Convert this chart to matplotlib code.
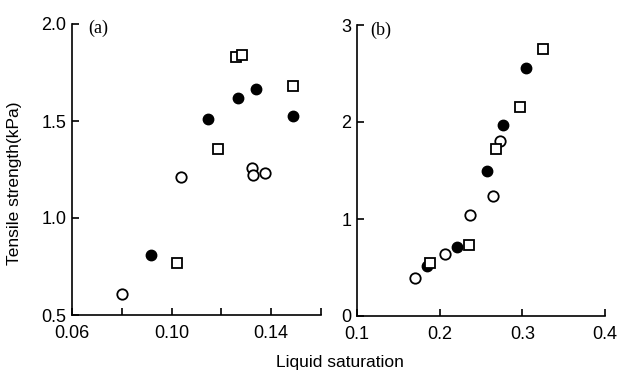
import matplotlib
matplotlib.use("Agg")
import matplotlib.pyplot as plt

# ---- data: panel (a) ----
a_open_x = [0.0800, 0.1036, 0.1322, 0.1325, 0.1375]
a_open_y = [0.608, 1.213, 1.256, 1.222, 1.230]
a_fill_x = [0.0916, 0.1145, 0.1268, 0.1339, 0.1488]
a_fill_y = [0.809, 1.509, 1.617, 1.663, 1.527]
a_sq_x = [0.1021, 0.1188, 0.1259, 0.1281, 0.1488]
a_sq_y = [0.770, 1.354, 1.831, 1.840, 1.680]

# ---- data: panel (b) ----
b_open_x = [0.170, 0.206, 0.237, 0.265, 0.2735]
b_open_y = [0.393, 0.635, 1.045, 1.232, 1.805]
b_fill_x = [0.1843, 0.2205, 0.2575, 0.2767, 0.3048]
b_fill_y = [0.514, 0.711, 1.493, 1.965, 2.556]
b_sq_x = [0.1884, 0.2353, 0.2687, 0.2968, 0.3249]
b_sq_y = [0.549, 0.729, 1.722, 2.153, 2.753]

a_xticks = [0.06, 0.08, 0.10, 0.12, 0.14, 0.16]
a_xticklabels = ["0.06", "", "0.10", "", "0.14", ""]
a_yticks = [0.5, 1.0, 1.5, 2.0]
a_yticklabels = ["0.5", "1.0", "1.5", "2.0"]
b_xticks = [0.1, 0.2, 0.3, 0.4]
b_xticklabels = ["0.1", "0.2", "0.3", "0.4"]
b_yticks = [0, 1, 2, 3]
b_yticklabels = ["0", "1", "2", "3"]

plt.rcParams['font.family'] = ['Liberation Sans', 'DejaVu Sans']

W, H = 622, 372
fig = plt.figure(figsize=(W / 100, H / 100), dpi=100)

def px_axes(left, right, top, bottom):
    return fig.add_axes([left / W, (H - bottom) / H, (right - left) / W, (bottom - top) / H])

axa = px_axes(72, 321, 24, 315)
axb = px_axes(357, 605, 25, 316)

ms = 7.5
for ax, ox, oy, fx, fy, sx, sy in [
    (axa, a_open_x, a_open_y, a_fill_x, a_fill_y, a_sq_x, a_sq_y),
    (axb, b_open_x, b_open_y, b_fill_x, b_fill_y, b_sq_x, b_sq_y),
]:
    ax.plot(ox, oy, 'o', ms=ms, mfc='white', mec='black', mew=1.3, ls='none', clip_on=False)
    ax.plot(fx, fy, 'o', ms=ms, mfc='black', mec='black', mew=1.0, ls='none', clip_on=False)
    ax.plot(sx, sy, 's', ms=ms * 0.95, mfc='white', mec='black', mew=1.3, ls='none', clip_on=False)
    for s in ['top', 'right']:
        ax.spines[s].set_visible(False)
    for s in ['left', 'bottom']:
        ax.spines[s].set_linewidth(1.2)
    ax.tick_params(direction='in', length=5, width=1.2, labelsize=13)
    ax.tick_params(axis='x', pad=7)
    ax.tick_params(axis='y', pad=4)

axa.set_xlim(0.06, 0.16)
axa.set_ylim(0.5, 2.0)
axa.set_xticks(a_xticks)
axa.set_xticklabels(a_xticklabels)
axa.set_yticks(a_yticks)
axa.set_yticklabels(a_yticklabels)

axb.set_xlim(0.1, 0.4)
axb.set_ylim(0, 3)
axb.set_xticks(b_xticks)
axb.set_xticklabels(b_xticklabels)
axb.set_yticks(b_yticks)
axb.set_yticklabels(b_yticklabels)

axa.text(0.064, 0.986, "(a)", transform=axa.transAxes, ha='left', va='center',
         fontsize=13, family=['Liberation Serif', 'DejaVu Serif'])
axb.text(0.052, 0.983, "(b)", transform=axb.transAxes, ha='left', va='center',
         fontsize=13, family=['Liberation Serif', 'DejaVu Serif'])

fig.text(15 / W, 1 - 183 / H, "Tensile strength(kPa)", rotation=90, ha='center', va='center', fontsize=12.5)
fig.text(340 / W, 1 - 362 / H, "Liquid saturation", ha='center', va='center', fontsize=12.5)

fig.savefig("out.png", dpi=100, facecolor='white')
